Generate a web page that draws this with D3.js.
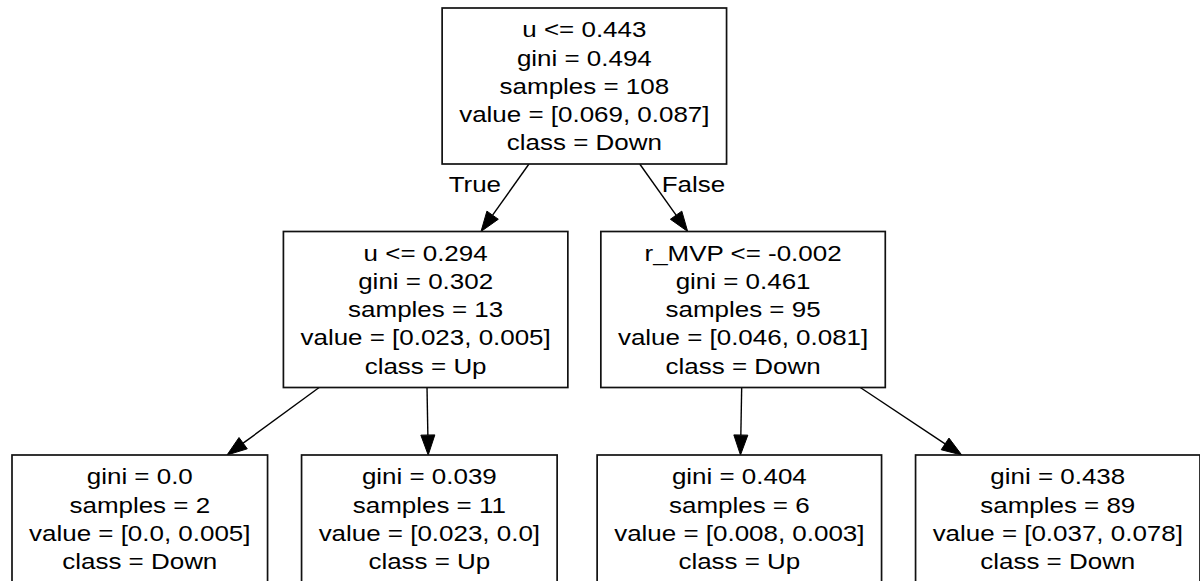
<!DOCTYPE html>
<html>
<head>
<meta charset="utf-8">
<script src="https://cdn.jsdelivr.net/npm/d3@7"></script>
<style>
  body { margin: 0; background: #fff; }
  svg { display: block; }
</style>
</head>
<body>
<script>
// decision tree nodes (preorder)
var nodeIds   = ["n0", "n1", "n2", "n3", "n4", "n5", "n6"];
var parentIds = [null, "n0", "n0", "n1", "n1", "n2", "n2"];
var splitRules = ["u <= 0.443", "u <= 0.294", "r_MVP <= -0.002", null, null, null, null];
var gini    = [0.494, 0.302, 0.461, 0.0, 0.039, 0.404, 0.438];
var samples = [108, 13, 95, 2, 11, 6, 89];
var values  = [[0.069, 0.087], [0.023, 0.005], [0.046, 0.081], [0.0, 0.005], [0.023, 0.0], [0.008, 0.003], [0.037, 0.078]];
var classes = ["Down", "Up", "Down", "Down", "Up", "Up", "Down"];
var edgeLabels = ["True", "False"];

var width = 1200, height = 581;
var FONT = 22, SX = 1.18, LINE = 28.2, PADX = 34, PADY = 15;
var GAP_SIB = 34, GAP_COUSIN = 40, GAP_RANK = 33, MARGIN_L = 12;
var ARROW_LEN = 20, ARROW_HW = 7;

// python-ish float formatting (0.0 stays "0.0")
function fmt(v) { return Number.isInteger(v) ? v.toFixed(1) : String(v); }

var nodes = nodeIds.map(function(id, i) {
	var lines = [];
	if (splitRules[i]) lines.push(splitRules[i]);
	lines.push("gini = " + fmt(gini[i]));
	lines.push("samples = " + samples[i]);
	lines.push("value = [" + fmt(values[i][0]) + ", " + fmt(values[i][1]) + "]");
	lines.push("class = " + classes[i]);
	return {id: id, parent: parentIds[i], lines: lines};
});

var root = d3.stratify()
	.id(function(d) { return d.id; })
	.parentId(function(d) { return d.parent; })(nodes);

var svg = d3.select("body").append("svg")
	.attr("width", width)
	.attr("height", height)
	.style("font-family", "'Liberation Sans', Helvetica, Arial, sans-serif")
	.style("font-size", FONT + "px");

// measure text so box sizes follow the labels
var probe = svg.append("text");
root.each(function(n) {
	var w = d3.max(n.data.lines, function(t) {
		probe.text(t);
		return probe.node().getComputedTextLength() * SX;
	});
	n.w = w + PADX;
	n.h = n.data.lines.length * LINE + PADY;
});
probe.remove();

var yScale = d3.scaleLinear().domain([0, root.height]).range([8, 455]);
root.each(function(n) { n.top = yScale(n.depth); n.cy = n.top + n.h / 2; });

// leaves packed left to right, wider gap between sibling groups
var leaves = root.leaves();
var xCur = MARGIN_L;
leaves.forEach(function(l, i) {
	if (i > 0) xCur += (l.parent === leaves[i - 1].parent ? GAP_SIB : GAP_COUSIN);
	l.cx = xCur + l.w / 2;
	xCur += l.w;
});
var mid = (MARGIN_L + xCur) / 2;

// inner nodes: sit over the child nearest the middle, then push apart
for (var d = root.height - 1; d >= 0; d--) {
	var rank = root.descendants().filter(function(n) { return n.depth === d && n.children; });
	rank.forEach(function(n) {
		if (n.depth === 0) {
			n.cx = (n.children[0].cx + n.children[n.children.length - 1].cx) / 2;
		} else {
			n.cx = d3.least(n.children, function(c) { return Math.abs(c.cx - mid); }).cx;
		}
	});
	for (var i = 1; i < rank.length; i++) {
		var a = rank[i - 1], b = rank[i];
		var over = (a.cx + a.w / 2 + GAP_RANK) - (b.cx - b.w / 2);
		if (over > 0) { a.cx -= over / 2; b.cx += over / 2; }
	}
}

// edges: center-to-center lines clipped to the boxes
var links = root.links().map(function(lk) {
	var s = lk.source, t = lk.target;
	function xAt(y) { return s.cx + (t.cx - s.cx) * (y - s.cy) / (t.cy - s.cy); }
	var y0 = s.top + s.h, y1 = t.top;
	return {s: s, t: t, x0: xAt(y0), y0: y0, x1: xAt(y1), y1: y1, xAt: xAt};
});

var gEdges = svg.append("g");
links.forEach(function(l) {
	var dx = l.x1 - l.x0, dy = l.y1 - l.y0, len = Math.sqrt(dx * dx + dy * dy);
	var ux = dx / len, uy = dy / len;
	var bx = l.x1 - ux * ARROW_LEN, by = l.y1 - uy * ARROW_LEN;
	gEdges.append("line")
		.attr("x1", l.x0).attr("y1", l.y0)
		.attr("x2", bx).attr("y2", by)
		.attr("stroke", "#000")
		.attr("stroke-width", 1.4);
	gEdges.append("polygon")
		.attr("points", [
			[l.x1, l.y1],
			[bx - uy * ARROW_HW, by + ux * ARROW_HW],
			[bx + uy * ARROW_HW, by - ux * ARROW_HW]
		].map(function(p) { return p.join(","); }).join(" "))
		.attr("fill", "#000")
		.attr("stroke", "#000")
		.attr("stroke-width", 1);
});

// True / False on the root's edges
links.filter(function(l) { return l.s.depth === 0; }).forEach(function(l, i) {
	var ly = 192, lx = l.xAt(ly - 7);
	gEdges.append("text")
		.attr("transform", "translate(" + (i === 0 ? lx - 13 : lx + 7) + "," + ly + ") scale(" + SX + ",1)")
		.attr("text-anchor", i === 0 ? "end" : "start")
		.attr("fill", "#000")
		.text(edgeLabels[i]);
});

// boxes with their text lines
var gNodes = svg.append("g").selectAll("g")
	.data(root.descendants())
	.join("g");

gNodes.append("rect")
	.attr("x", function(n) { return n.cx - n.w / 2; })
	.attr("y", function(n) { return n.top; })
	.attr("width", function(n) { return n.w; })
	.attr("height", function(n) { return n.h; })
	.attr("fill", "#fff")
	.attr("stroke", "#111")
	.attr("stroke-width", 1.7);

gNodes.each(function(n) {
	d3.select(this).selectAll("text")
		.data(n.data.lines)
		.join("text")
		.attr("transform", function(t, i) {
			return "translate(" + n.cx + "," + (n.top + 29.3 + i * LINE) + ") scale(" + SX + ",1)";
		})
		.attr("text-anchor", "middle")
		.attr("fill", "#000")
		.text(function(t) { return t; });
});
</script>
</body>
</html>
